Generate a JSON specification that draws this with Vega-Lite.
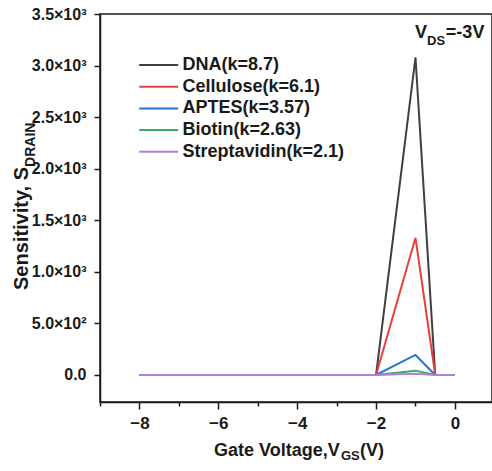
{
  "$schema": "https://vega.github.io/schema/vega-lite/v6.json",
  "autosize": "none",
  "padding": {"left": 100, "top": 14, "right": 0, "bottom": 69},
  "width": 392,
  "height": 388,
  "background": "white",
  "config": {
    "font": "Liberation Sans",
    "view": {"stroke": "#1a1a1a", "strokeWidth": 1.5},
    "axis": {
      "domainColor": "#1a1a1a",
      "domainWidth": 1.5,
      "tickColor": "#1a1a1a",
      "tickWidth": 1.5,
      "grid": false,
      "labelFont": "Liberation Sans",
      "labelFontWeight": "bold",
      "labelColor": "#1a1a1a",
      "labelFontSize": 16,
      "title": null
    },
    "text": {"font": "Liberation Sans", "fontWeight": "bold", "color": "#1a1a1a"}
  },
  "layer": [
    {
      "data": {
        "values": [
          {"material": "DNA(k=8.7)", "vgs": -8, "s": 0},
          {"material": "DNA(k=8.7)", "vgs": -7, "s": 0},
          {"material": "DNA(k=8.7)", "vgs": -6, "s": 0},
          {"material": "DNA(k=8.7)", "vgs": -5, "s": 0},
          {"material": "DNA(k=8.7)", "vgs": -4, "s": 0},
          {"material": "DNA(k=8.7)", "vgs": -3, "s": 0},
          {"material": "DNA(k=8.7)", "vgs": -2, "s": 0},
          {"material": "DNA(k=8.7)", "vgs": -1, "s": 3080},
          {"material": "DNA(k=8.7)", "vgs": -0.5, "s": 0},
          {"material": "DNA(k=8.7)", "vgs": 0, "s": 0},
          {"material": "Cellulose(k=6.1)", "vgs": -8, "s": 0},
          {"material": "Cellulose(k=6.1)", "vgs": -7, "s": 0},
          {"material": "Cellulose(k=6.1)", "vgs": -6, "s": 0},
          {"material": "Cellulose(k=6.1)", "vgs": -5, "s": 0},
          {"material": "Cellulose(k=6.1)", "vgs": -4, "s": 0},
          {"material": "Cellulose(k=6.1)", "vgs": -3, "s": 0},
          {"material": "Cellulose(k=6.1)", "vgs": -2, "s": 0},
          {"material": "Cellulose(k=6.1)", "vgs": -1, "s": 1330},
          {"material": "Cellulose(k=6.1)", "vgs": -0.5, "s": 0},
          {"material": "Cellulose(k=6.1)", "vgs": 0, "s": 0},
          {"material": "APTES(k=3.57)", "vgs": -8, "s": 0},
          {"material": "APTES(k=3.57)", "vgs": -7, "s": 0},
          {"material": "APTES(k=3.57)", "vgs": -6, "s": 0},
          {"material": "APTES(k=3.57)", "vgs": -5, "s": 0},
          {"material": "APTES(k=3.57)", "vgs": -4, "s": 0},
          {"material": "APTES(k=3.57)", "vgs": -3, "s": 0},
          {"material": "APTES(k=3.57)", "vgs": -2, "s": 0},
          {"material": "APTES(k=3.57)", "vgs": -1, "s": 194},
          {"material": "APTES(k=3.57)", "vgs": -0.5, "s": 0},
          {"material": "APTES(k=3.57)", "vgs": 0, "s": 0},
          {"material": "Biotin(k=2.63)", "vgs": -8, "s": 0},
          {"material": "Biotin(k=2.63)", "vgs": -7, "s": 0},
          {"material": "Biotin(k=2.63)", "vgs": -6, "s": 0},
          {"material": "Biotin(k=2.63)", "vgs": -5, "s": 0},
          {"material": "Biotin(k=2.63)", "vgs": -4, "s": 0},
          {"material": "Biotin(k=2.63)", "vgs": -3, "s": 0},
          {"material": "Biotin(k=2.63)", "vgs": -2, "s": 0},
          {"material": "Biotin(k=2.63)", "vgs": -1, "s": 42},
          {"material": "Biotin(k=2.63)", "vgs": -0.5, "s": 0},
          {"material": "Biotin(k=2.63)", "vgs": 0, "s": 0},
          {"material": "Streptavidin(k=2.1)", "vgs": -8, "s": 0},
          {"material": "Streptavidin(k=2.1)", "vgs": -7, "s": 0},
          {"material": "Streptavidin(k=2.1)", "vgs": -6, "s": 0},
          {"material": "Streptavidin(k=2.1)", "vgs": -5, "s": 0},
          {"material": "Streptavidin(k=2.1)", "vgs": -4, "s": 0},
          {"material": "Streptavidin(k=2.1)", "vgs": -3, "s": 0},
          {"material": "Streptavidin(k=2.1)", "vgs": -2, "s": 0},
          {"material": "Streptavidin(k=2.1)", "vgs": -1, "s": 12},
          {"material": "Streptavidin(k=2.1)", "vgs": -0.5, "s": 0},
          {"material": "Streptavidin(k=2.1)", "vgs": 0, "s": 0}
        ]
      },
      "mark": {"type": "line", "strokeWidth": 2},
      "encoding": {
        "x": {
          "field": "vgs",
          "type": "quantitative",
          "scale": {"domain": [-9, 0.94], "nice": false, "zero": false},
          "axis": {
            "title": null,
            "values": [-9, -8, -7, -6, -5, -4, -3, -2, -1, 0],
            "tickSize": {"condition": {"test": "datum.value % 2 !== 0", "value": 4}, "value": 7},
            "labelExpr": "datum.value % 2 === 0 ? datum.label : ''",
            "labelPadding": 6,
            "labelFontSize": 17
          }
        },
        "y": {
          "field": "s",
          "type": "quantitative",
          "scale": {"domain": [-262, 3500], "nice": false, "zero": false},
          "axis": {
            "title": null,
            "values": [0, 250, 500, 750, 1000, 1250, 1500, 1750, 2000, 2250, 2500, 2750, 3000, 3250, 3500],
            "tickSize": {"condition": {"test": "datum.value % 500 !== 0", "value": 4}, "value": 6},
            "labelExpr": "datum.value % 500 !== 0 ? '' : datum.value === 0 ? '0.0' : datum.value < 1000 ? format(datum.value / 100, '.1f') + '×10²' : format(datum.value / 1000, '.1f') + '×10³'",
            "labelPadding": 8,
            "labelFontSize": 16
          }
        },
        "color": {
          "field": "material",
          "type": "nominal",
          "sort": null,
          "scale": {
            "domain": ["DNA(k=8.7)", "Cellulose(k=6.1)", "APTES(k=3.57)", "Biotin(k=2.63)", "Streptavidin(k=2.1)"],
            "range": ["#404040", "#e5403d", "#2b73d2", "#38a967", "#b47fd8"]
          },
          "legend": {
            "title": null,
            "orient": "none",
            "legendX": 49.7,
            "legendY": 42,
            "padding": 0,
            "symbolType": "M-2.5,0H2.5",
            "symbolSize": 243,
            "symbolStrokeWidth": 2,
            "labelFont": "Liberation Sans",
            "labelFontWeight": "bold",
            "labelFontSize": 18,
            "labelColor": "#1a1a1a",
            "labelOffset": 14.7,
            "labelLimit": 300,
            "rowPadding": 3.7
          }
        }
      }
    },
    {
      "data": {"values": [{"t": "Sensitivity, S"}]},
      "mark": {"type": "text", "angle": 270, "align": "right", "baseline": "alphabetic", "fontSize": 20},
      "encoding": {
        "x": {"datum": -10.826, "type": "quantitative"},
        "y": {"datum": 2017, "type": "quantitative"},
        "text": {"field": "t"}
      }
    },
    {
      "data": {"values": [{"t": "DRAIN"}]},
      "mark": {"type": "text", "angle": 270, "align": "left", "baseline": "alphabetic", "fontSize": 14},
      "encoding": {
        "x": {"datum": -10.648, "type": "quantitative"},
        "y": {"datum": 2017, "type": "quantitative"},
        "text": {"field": "t"}
      }
    },
    {
      "data": {"values": [{"t": "Gate Voltage,V"}]},
      "mark": {"type": "text", "align": "left", "baseline": "alphabetic", "fontSize": 18},
      "encoding": {
        "x": {"datum": -6.11, "type": "quantitative"},
        "y": {"datum": -785, "type": "quantitative"},
        "text": {"field": "t"}
      }
    },
    {
      "data": {"values": [{"t": "GS"}]},
      "mark": {"type": "text", "align": "left", "baseline": "alphabetic", "fontSize": 13},
      "encoding": {
        "x": {"datum": -2.889, "type": "quantitative"},
        "y": {"datum": -824, "type": "quantitative"},
        "text": {"field": "t"}
      }
    },
    {
      "data": {"values": [{"t": "(V)"}]},
      "mark": {"type": "text", "align": "left", "baseline": "alphabetic", "fontSize": 18},
      "encoding": {
        "x": {"datum": -2.408, "type": "quantitative"},
        "y": {"datum": -785, "type": "quantitative"},
        "text": {"field": "t"}
      }
    },
    {
      "data": {"values": [{"t": "V"}]},
      "mark": {"type": "text", "align": "left", "baseline": "alphabetic", "fontSize": 18},
      "encoding": {
        "x": {"datum": -1.013, "type": "quantitative"},
        "y": {"datum": 3267, "type": "quantitative"},
        "text": {"field": "t"}
      }
    },
    {
      "data": {"values": [{"t": "DS"}]},
      "mark": {"type": "text", "align": "left", "baseline": "alphabetic", "fontSize": 13},
      "encoding": {
        "x": {"datum": -0.708, "type": "quantitative"},
        "y": {"datum": 3199, "type": "quantitative"},
        "text": {"field": "t"}
      }
    },
    {
      "data": {"values": [{"t": "=-3V"}]},
      "mark": {"type": "text", "align": "left", "baseline": "alphabetic", "fontSize": 18},
      "encoding": {
        "x": {"datum": -0.23, "type": "quantitative"},
        "y": {"datum": 3267, "type": "quantitative"},
        "text": {"field": "t"}
      }
    }
  ]
}
